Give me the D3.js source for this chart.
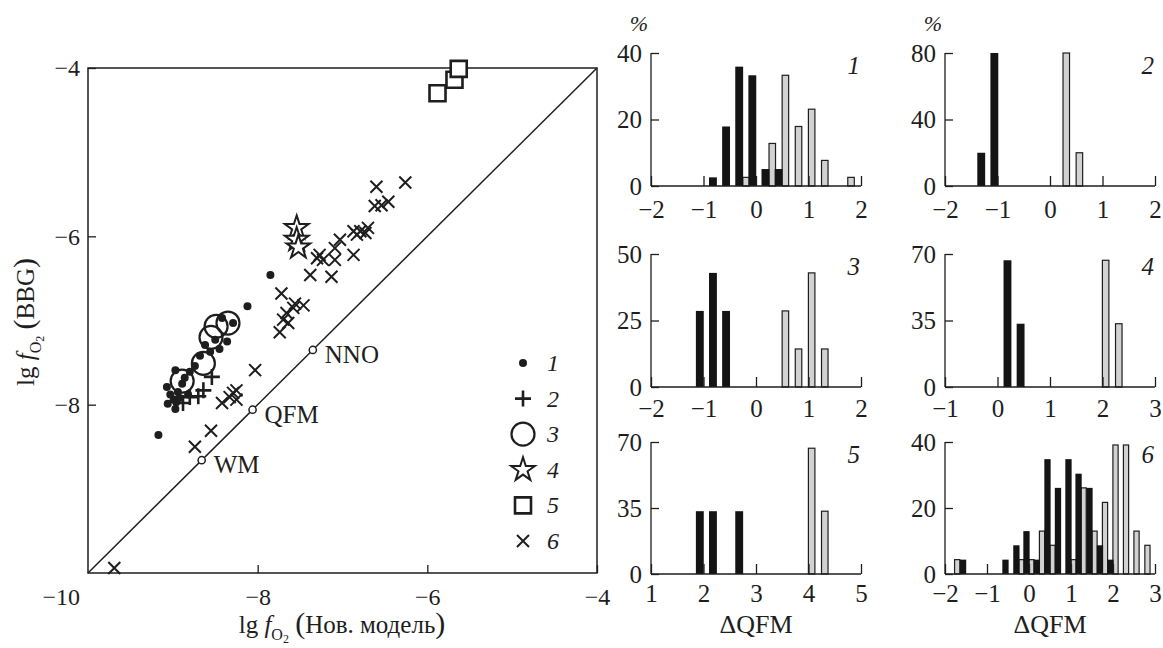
<!DOCTYPE html>
<html>
<head>
<meta charset="utf-8">
<script src="https://cdn.jsdelivr.net/npm/d3@7"></script>
<style>
  body { margin: 0; background: #fff; }
  svg text { font-family: "Liberation Serif", "Times New Roman", serif; fill: #1e1e1e; }
</style>
</head>
<body>
<svg id="chart" width="1163" height="648"></svg>
<script>
const svg = d3.select("#chart");
const ink = "#1e1e1e";
const intFmt = d3.format("d");

// --- main scatter: [lg fO2 new model, lg fO2 BBG] ---
const mainTicks = [-8, -6, -4];
const dots = [
  [-9.17, -8.36], [-9.07, -7.79], [-8.97, -7.59], [-8.97, -8.05], [-8.99, -7.94],
  [-8.94, -7.85], [-8.89, -7.75], [-8.86, -7.68], [-8.80, -7.61], [-8.74, -7.54],
  [-8.68, -7.42], [-8.62, -7.29], [-8.56, -7.37], [-8.50, -7.23], [-8.45, -7.34],
  [-8.36, -7.25], [-8.29, -7.03], [-8.42, -6.97], [-8.96, -7.97], [-8.92, -7.92],
  [-9.06, -7.99], [-8.82, -7.88], [-9.03, -7.88], [-8.12, -6.83], [-7.85, -6.46]
];
const pluses = [[-8.54, -7.67], [-8.64, -7.83], [-8.70, -7.90], [-8.80, -7.91], [-8.88, -7.98]];
const circles = [[-8.49, -7.07], [-8.35, -7.03], [-8.55, -7.20], [-8.64, -7.51], [-8.89, -7.72]];
const stars = [[-7.54, -5.90], [-7.54, -6.04], [-7.52, -6.13]];
const squares = [[-5.88, -4.30], [-5.68, -4.14], [-5.63, -4.01]];
const crosses = [
  [-9.69, -9.94], [-8.74, -8.50], [-8.55, -8.31], [-8.42, -7.98], [-8.33, -7.91],
  [-8.29, -7.86], [-8.25, -7.83], [-8.25, -7.94], [-8.03, -7.59], [-7.74, -7.14],
  [-7.72, -6.68], [-7.70, -6.99], [-7.66, -6.91], [-7.64, -7.03], [-7.58, -6.85],
  [-7.56, -6.80], [-7.46, -6.82], [-7.38, -6.46], [-7.13, -6.48], [-7.30, -6.26],
  [-7.27, -6.22], [-7.23, -6.28], [-7.09, -6.28], [-7.09, -6.14], [-7.03, -6.04],
  [-6.87, -6.22], [-6.83, -5.98], [-6.87, -5.94], [-6.79, -5.94], [-6.73, -5.96],
  [-6.70, -5.90], [-6.62, -5.64], [-6.54, -5.63], [-6.46, -5.59], [-6.60, -5.41],
  [-6.26, -5.36]
];
const bufferNames = ["WM", "QFM", "NNO"];
const bufferValues = [-8.66, -8.06, -7.35];
const legendLabels = ["1", "2", "3", "4", "5", "6"];

// --- histograms: [ΔQFM bin centre, %] ---
const h1Black = [[-0.82, 2.6], [-0.57, 17.9], [-0.32, 35.9], [-0.07, 33.3], [0.18, 5.1], [0.43, 5.1]];
const h1Grey = [[-0.19, 2.6], [0.31, 12.8], [0.56, 33.3], [0.81, 17.9], [1.06, 23.1], [1.31, 7.7], [1.81, 2.6]];
const h2Black = [[-1.31, 20], [-1.06, 80]];
const h2Grey = [[0.31, 80], [0.56, 20]];
const h3Black = [[-1.07, 28.6], [-0.82, 42.9], [-0.57, 28.6]];
const h3Grey = [[0.56, 28.6], [0.81, 14.3], [1.06, 42.9], [1.31, 14.3]];
const h4Black = [[0.19, 66.7], [0.44, 33.3]];
const h4Grey = [[2.06, 66.7], [2.31, 33.3]];
const h5Black = [[1.93, 33.3], [2.18, 33.3], [2.68, 33.3]];
const h5Grey = [[4.06, 66.7], [4.31, 33.3]];
const h6Black = [[-1.57, 4.35], [-0.56, 4.35], [-0.30, 8.7], [-0.06, 13.0], [0.18, 4.35], [0.44, 34.8],
  [0.69, 26.1], [0.94, 34.8], [1.18, 30.4], [1.44, 26.1], [1.69, 8.7], [1.94, 4.35]];
const h6Grey = [[-1.71, 4.35], [-0.18, 4.35], [0.06, 4.35], [0.31, 13.0], [0.56, 8.7], [1.06, 4.35],
  [1.30, 26.1], [1.56, 13.0], [1.81, 21.7], [2.06, 39.1], [2.31, 39.1], [2.56, 13.0], [2.82, 8.7]];
const histDomains = [[-2, 2], [-2, 2], [-2, 2], [-1, 3], [1, 5], [-2, 3]];
const histYTicks = [[0, 20, 40], [0, 40, 80], [0, 25, 50], [0, 35, 70], [0, 35, 70], [0, 20, 40]];
const histLabels = ["1", "2", "3", "4", "5", "6"];

// ================= main plot =================
const x = d3.scaleLinear().domain([-10, -4]).range([88, 597]);
const y = d3.scaleLinear().domain([-10, -4]).range([573, 68]);
const main = svg.append("g");

main.append("rect")
  .attr("x", x(-10)).attr("y", y(-4))
  .attr("width", x(-4) - x(-10)).attr("height", y(-10) - y(-4))
  .attr("fill", "none").attr("stroke", ink).attr("stroke-width", 1.5);

function styleAxis(g, size) {
  g.select(".domain").remove();
  g.selectAll(".tick line").attr("stroke", ink).attr("stroke-width", 1.3);
  g.selectAll("text")
    .attr("fill", ink)
    .style("font-family", "'Liberation Serif', serif")
    .style("font-size", size + "px");
}

main.append("g")
  .attr("transform", `translate(${x(-10)},0)`)
  .call(d3.axisLeft(y).tickValues(mainTicks).tickFormat(intFmt).tickSize(-8).tickPadding(8))
  .call(styleAxis, 24);

main.append("g")
  .attr("transform", `translate(0,${y(-10)})`)
  .call(d3.axisBottom(x).tickValues(mainTicks).tickFormat(intFmt).tickSize(-8).tickPadding(15))
  .call(styleAxis, 24);

main.append("text")
  .attr("x", x(-10) - 8).attr("y", y(-10) + 32)
  .attr("text-anchor", "end")
  .style("font-size", "24px")
  .text("\u221210");

main.append("line")
  .attr("x1", x(-10)).attr("y1", y(-10))
  .attr("x2", x(-4)).attr("y2", y(-4))
  .attr("stroke", ink).attr("stroke-width", 1.5);

const symbolPaths = {
  plus: "M-8,0H8M0,-8V8",
  cross: "M-6,-6L6,6M-6,6L6,-6",
  star: d3.symbol().type(d3.symbolStar).size(175)(),
  square: "M-8,-8H8V8H-8Z"
};

function drawSymbol(g, kind, px, py) {
  if (kind === "dot") {
    g.append("circle").attr("cx", px).attr("cy", py).attr("r", 4).attr("fill", ink);
  } else if (kind === "circle") {
    g.append("circle").attr("cx", px).attr("cy", py).attr("r", 11.5)
      .attr("fill", "none").attr("stroke", ink).attr("stroke-width", 2.2);
  } else {
    g.append("path").attr("d", symbolPaths[kind])
      .attr("transform", `translate(${px},${py})`)
      .attr("fill", kind === "star" || kind === "square" ? "#fff" : "none")
      .attr("stroke", ink)
      .attr("stroke-width", kind === "plus" || kind === "square" ? 2.6 : 2);
  }
}

const pts = main.append("g");
[["cross", crosses], ["circle", circles], ["dot", dots], ["plus", pluses], ["star", stars], ["square", squares]]
  .forEach(([kind, arr]) => arr.forEach(d => drawSymbol(pts, kind, x(d[0]), y(d[1]))));

// buffers on the 1:1 line
bufferValues.forEach((v, i) => {
  main.append("circle").attr("cx", x(v)).attr("cy", y(v)).attr("r", 3.6)
    .attr("fill", "#fff").attr("stroke", ink).attr("stroke-width", 1.5);
  main.append("text").attr("x", x(v) + 12).attr("y", y(v) + 13)
    .style("font-size", "25px").text(bufferNames[i]);
});

// legend
const legendKinds = ["dot", "plus", "circle", "star", "square", "cross"];
legendKinds.forEach((k, i) => {
  const ly = 363 + i * 35.6;
  drawSymbol(main, k, 523, ly);
  main.append("text").attr("x", 547).attr("y", ly + 8)
    .style("font-size", "24px").style("font-style", "italic").text(legendLabels[i]);
});

// axis titles
function fo2Label(t, tail) {
  t.append("tspan").text("lg ");
  t.append("tspan").style("font-style", "italic").text("f");
  t.append("tspan").attr("dy", 7).style("font-size", "16px").text("O");
  t.append("tspan").attr("dy", 3).style("font-size", "12px").text("2");
  t.append("tspan").attr("dy", -10).text(" ");
  t.append("tspan").style("font-size", "30px").text("(");
  t.append("tspan").text(tail);
  t.append("tspan").style("font-size", "30px").text(")");
}

const yTitle = svg.append("text")
  .attr("transform", "translate(34,322) rotate(-90)")
  .attr("text-anchor", "middle")
  .style("font-size", "25px");
fo2Label(yTitle, "BBG");

const xTitle = svg.append("text")
  .attr("x", 342).attr("y", 633)
  .attr("text-anchor", "middle")
  .style("font-size", "25px");
fo2Label(xTitle, "Нов. модель");

// ================= histograms =================
const colX = [651, 945];
const rowTop = [53, 254, 442];
const rowBottom = [186, 387, 574];
const rowPad = [14, 12, 10];
const histW = 210;
const blacks = [h1Black, h2Black, h3Black, h4Black, h5Black, h6Black];
const greys = [h1Grey, h2Grey, h3Grey, h4Grey, h5Grey, h6Grey];

blacks.forEach((blk, i) => {
  const col = i % 2, row = Math.floor(i / 2);
  const dom = histDomains[i];
  const yt = histYTicks[i];
  const xs = d3.scaleLinear().domain(dom).range([colX[col], colX[col] + histW]);
  const ys = d3.scaleLinear().domain([0, yt[yt.length - 1]]).range([rowBottom[row], rowTop[row]]);
  const g = svg.append("g");

  g.selectAll(".grey").data(greys[i]).enter().append("rect")
    .attr("x", d => xs(d[0] - 0.062))
    .attr("width", d => xs(d[0] + 0.062) - xs(d[0] - 0.062))
    .attr("y", d => ys(d[1]))
    .attr("height", d => ys(0) - ys(d[1]))
    .attr("fill", "#d2d2d2").attr("stroke", ink).attr("stroke-width", 1.2);

  g.selectAll(".black").data(blk).enter().append("rect")
    .attr("x", d => xs(d[0] - 0.075))
    .attr("width", d => xs(d[0] + 0.075) - xs(d[0] - 0.075))
    .attr("y", d => ys(d[1]))
    .attr("height", d => ys(0) - ys(d[1]))
    .attr("fill", "#141414");

  g.append("line")
    .attr("x1", xs(dom[0])).attr("x2", xs(dom[0]))
    .attr("y1", ys(0)).attr("y2", ys(yt[yt.length - 1]))
    .attr("stroke", ink).attr("stroke-width", 1.3);
  g.append("line")
    .attr("x1", xs(dom[0])).attr("x2", xs(dom[1]))
    .attr("y1", ys(0)).attr("y2", ys(0))
    .attr("stroke", ink).attr("stroke-width", 1.3);

  g.append("g")
    .attr("transform", `translate(${xs(dom[0])},0)`)
    .call(d3.axisLeft(ys).tickValues(yt).tickFormat(intFmt).tickSize(-8).tickPadding(9))
    .call(styleAxis, 25);

  g.append("g")
    .attr("transform", `translate(0,${ys(0)})`)
    .call(d3.axisBottom(xs).tickValues(d3.range(dom[0], dom[1] + 1)).tickFormat(intFmt)
      .tickSize(-10).tickPadding(rowPad[row]))
    .call(styleAxis, 25);

  g.append("text")
    .attr("x", xs(dom[1]) - 1).attr("y", rowTop[row] + 21)
    .attr("text-anchor", "end")
    .style("font-size", "25px").style("font-style", "italic")
    .text(histLabels[i]);

  if (row === 0) {
    g.append("text")
      .attr("x", xs(dom[0]) - 12).attr("y", 31)
      .attr("text-anchor", "middle")
      .style("font-size", "22px").style("font-style", "italic")
      .text("%");
  }
  if (row === 2) {
    g.append("text")
      .attr("x", (xs(dom[0]) + xs(dom[1])) / 2).attr("y", 633)
      .attr("text-anchor", "middle")
      .style("font-size", "26px")
      .text("ΔQFM");
  }
});
</script>
</body>
</html>
